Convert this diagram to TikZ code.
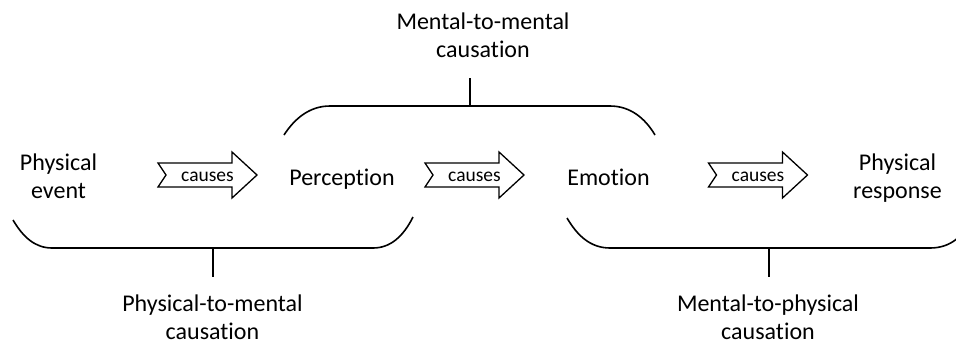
\documentclass[tikz,border=0pt]{standalone}
\usepackage{fontspec}
\setmainfont{Carlito}[Ligatures={NoCommon,NoRare}]
\usetikzlibrary{calc}

\tikzset{
  label/.style={inner sep=0pt, align=center, font=\fontsize{24}{28}\selectfont},
  causetext/.style={inner sep=0pt, font=\fontsize{19.5}{22}\selectfont},
  blockarrow/.style={draw=black, line width=1.3pt, line join=miter, fill=white},
  bracket/.style={draw=black, line width=1.6pt},
}

% notched block arrow around a given centre
\newcommand{\causeshape}[1]{%
  \draw[blockarrow, shift={(#1)}]
    (-49.5,-12) -- (-41.5,0) -- (-49.5,12) -- (24.5,12) -- (24.5,23)
    -- (49.5,0) -- (24.5,-23) -- (24.5,-12) -- cycle;}

\begin{document}
\begin{tikzpicture}[x=1pt, y=-1pt]
  \useasboundingbox (0,0) rectangle (956,346);
  \clip (0,0) rectangle (956,346);

  % main chain (base anchor sits on the last line)
  \node[label, anchor=base] (pe)   at (58.5,198)  {Physical\\event};
  \node[label, anchor=base] (perc) at (342,185)   {Perception};
  \node[label, anchor=base] (emo)  at (608.5,185) {Emotion};
  \node[label, anchor=base] (pr)   at (897.5,198) {Physical\\response};

  % "causes" arrows
  \coordinate (a1) at (207.5,175);
  \coordinate (a2) at (474.5,175);
  \coordinate (a3) at (758,175);
  \causeshape{a1}
  \causeshape{a2}
  \causeshape{a3}
  \node[causetext, anchor=base] (c1) at ($(a1)+(0,6)$) {causes};
  \node[causetext, anchor=base] (c2) at ($(a2)+(0,6)$) {causes};
  \node[causetext, anchor=base] (c3) at ($(a3)+(0,6)$) {causes};

  % grouping brackets
  \draw[bracket] (284,135) .. controls (295,118) and (310,106) .. (330,106)
    -- (610,106) .. controls (630,106) and (645,118) .. (655,135);
  \draw[bracket] (470,106) -- (470,78);

  \draw[bracket] (13,220) .. controls (23,237) and (35,248) .. (52,248)
    -- (373,248) .. controls (390,248) and (403,237) .. (413,217);
  \draw[bracket] (213,248) -- (213,277);

  \draw[bracket] (567,218) .. controls (577,235) and (590,248) .. (610,248)
    -- (930,248) .. controls (950,248) and (962,237) .. (972,220);
  \draw[bracket] (769,248) -- (769,277);

  % bracket captions
  \node[label, anchor=base] (mm) at (483,57)    {Mental-to-mental\\causation};
  \node[label, anchor=base] (pm) at (212.5,339) {Physical-to-mental\\causation};
  \node[label, anchor=base] (mp) at (768,339)   {Mental-to-physical\\causation};
\end{tikzpicture}
\end{document}
